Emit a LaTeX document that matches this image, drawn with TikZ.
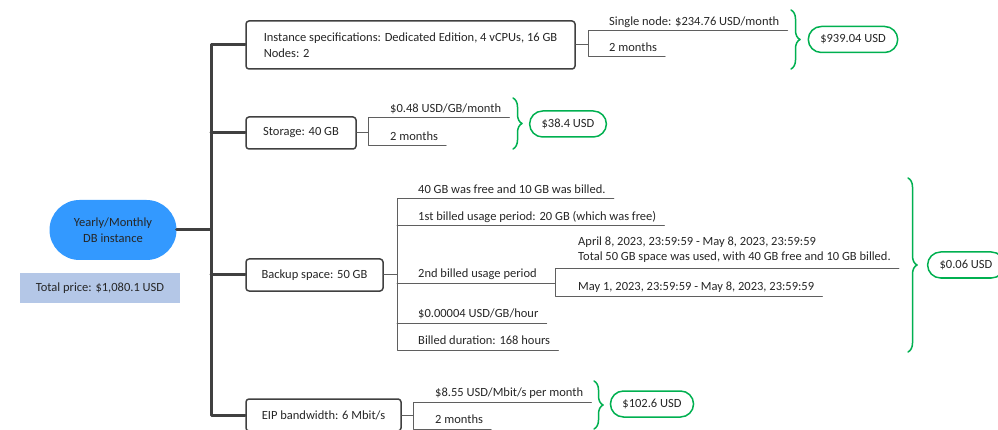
\documentclass[tikz,border=0pt]{standalone}
\usepackage{fontspec}
\setmainfont{Carlito}
\usetikzlibrary{decorations.pathreplacing}
\definecolor{trunkgray}{RGB}{64,64,64}
\definecolor{linegray}{RGB}{95,95,95}
\definecolor{pricegreen}{RGB}{0,176,80}
\definecolor{dbblue}{RGB}{51,153,255}
\definecolor{totalblue}{RGB}{180,199,231}
\definecolor{txtgray}{RGB}{38,38,38}
\begin{document}
\begin{tikzpicture}[x=1pt, y=-1pt, font=\fontsize{12.5}{16.5}\selectfont, text=txtgray, line join=round, line cap=round,
	box/.style={draw=trunkgray, line width=1.5pt, rounded corners=3pt, fill=white, inner sep=0pt, align=left},
	trunk/.style={draw=trunkgray, line width=3pt},
	leafline/.style={draw=linegray, line width=1pt},
	leaf/.style={anchor=south west, inner xsep=0pt, inner ysep=5pt, text depth=0pt},
	result/.style={draw=pricegreen, line width=1.5pt, fill=white, rounded corners=13pt, minimum height=26pt, inner xsep=12pt},
	sumbrace/.style={draw=pricegreen, line width=1.5pt, decorate, decoration={brace, amplitude=9pt}}]
		\useasboundingbox (0,0) rectangle (998,430);
		% left part
		\node[fill=dbblue, rounded corners=30pt, minimum width=127pt, minimum height=60pt, align=center] (db) at (113,230) {Yearly/Monthly\\DB instance};
		\node[fill=totalblue, minimum width=160pt, minimum height=30pt] (total) at (100,288) {Total price: \$1,080.1 USD};
		\coordinate (tr) at (211,0);
		% items
		\node[box, minimum width=329pt, minimum height=48pt] (spec) at (410.5,45) {Instance specifications: Dedicated Edition, 4 vCPUs, 16 GB\\Nodes: 2};
		\node[box, minimum width=110pt, minimum height=32pt] (stor) at (301,133) {Storage: 40 GB};
		\node[box, minimum width=137pt, minimum height=32pt] (backup) at (314.5,275) {Backup space: 50 GB};
		\node[box, minimum width=155pt, minimum height=32pt] (eip) at (323.5,415) {EIP bandwidth: 6 Mbit/s};
		\draw[trunk] (spec.west) -- (spec.west -| tr) -- (eip.west -| tr) -- (eip.west);
		\draw[trunk] (db.east) -- (db.east -| tr);
		\draw[trunk] (stor.west) -- (stor.west -| tr);
		\draw[trunk] (backup.west) -- (backup.west -| tr);
		% instance
		\coordinate (j1) at (588,0);
		\node[leaf] (s1a) at (609,31) {Single node: \$234.76 USD/month};
		\node[leaf] (s1b) at (609,57) {2 months};
		\draw[leafline] (spec.east) -- (spec.east -| j1);
		\draw[leafline] ([xshift=8pt]s1a.south east) -- (j1 |- s1a.south) -- (j1 |- s1b.south) -- ([xshift=8pt]s1b.south east);
		\draw[sumbrace] (791,10) -- (791,69);
		\node[result] (r1) at (853,39.5) {\$939.04 USD};
		% storage
		\coordinate (j2) at (368,0);
		\node[leaf] (s2a) at (390,118) {\$0.48 USD/GB/month};
		\node[leaf] (s2b) at (390,146) {2 months};
		\draw[leafline] (stor.east) -- (stor.east -| j2);
		\draw[leafline] ([xshift=8pt]s2a.south east) -- (j2 |- s2a.south) -- (j2 |- s2b.south) -- ([xshift=8pt]s2b.south east);
		\draw[sumbrace] (513,98) -- (513,149);
		\node[result] (r2) at (568,124) {\$38.4 USD};
		% backup
		\coordinate (j3) at (397,0);
		\coordinate (j4) at (555,0);
		\node[leaf] (s3a) at (418,199) {40 GB was free and 10 GB was billed.};
		\node[leaf] (s3b) at (418,226) {1st billed usage period: 20 GB (which was free)};
		\node[leaf] (s3c) at (418,283) {2nd billed usage period};
		\node[leaf] (s3d) at (418,323) {\$0.00004 USD/GB/hour};
		\node[leaf] (s3e) at (418,350) {Billed duration: 168 hours};
		\draw[leafline] (backup.east) -- (backup.east -| j3);
		\draw[leafline] ([xshift=8pt]s3a.south east) -- (j3 |- s3a.south) -- (j3 |- s3e.south) -- ([xshift=8pt]s3e.south east);
		\draw[leafline] (j3 |- s3b.south) -- ([xshift=8pt]s3b.south east);
		\draw[leafline] (j3 |- s3c.south) -- (j4 |- s3c.south);
		\draw[leafline] (j3 |- s3d.south) -- ([xshift=8pt]s3d.south east);
		\node[leaf] (s4x) at (578,251) {April 8, 2023, 23:59:59 - May 8, 2023, 23:59:59};
		\node[leaf, inner ysep=8pt] (s4a) at (578,269) {Total 50 GB space was used, with 40 GB free and 10 GB billed.};
		\node[leaf] (s4b) at (578,296) {May 1, 2023, 23:59:59 - May 8, 2023, 23:59:59};
		\draw[leafline] ([xshift=8pt]s4a.south east) -- (j4 |- s4a.south) -- (j4 |- s4b.south) -- ([xshift=8pt]s4b.south east);
		\draw[sumbrace] (908,178) -- (908,352);
		\node[result] (r3) at (966,265) {\$0.06 USD};
		% eip
		\coordinate (j5) at (413,0);
		\node[leaf] (s5a) at (435,402) {\$8.55 USD/Mbit/s per month};
		\node[leaf] (s5b) at (435,429) {2 months};
		\draw[leafline] (eip.east) -- (eip.east -| j5);
		\draw[leafline] ([xshift=8pt]s5a.south east) -- (j5 |- s5a.south) -- (j5 |- s5b.south) -- ([xshift=8pt]s5b.south east);
		\draw[sumbrace] (594,381) -- (594,429);
		\node[result] (r4) at (652,404) {\$102.6 USD};
\end{tikzpicture}
\end{document}
